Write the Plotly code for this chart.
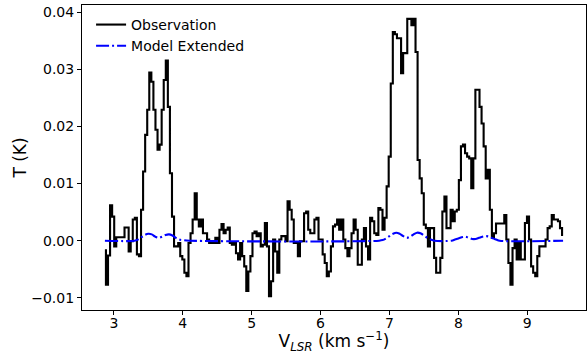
import numpy as np
import plotly.graph_objects as go

# Velocity channel grid (km/s)
v_start, v_end = 2.87, 9.52

# Observed brightness temperature per channel (K)
obs_T = [
    -0.0017, -0.0077, -0.0026, 0.0062, 0.0042, -0.0010, 0.0006, 0.0006, 0.0006, 0.0006,
    0.0023, 0.0023, -0.0019, -0.0001, 0.0037, 0.0040, -0.0024, -0.0027, 0.0054, 0.0121,
    0.0185, 0.0229, 0.0294, 0.0278, 0.0229, 0.0194, 0.0159, 0.0168, 0.0229, 0.0281,
    0.0315,
    0.0234, 0.0118, 0.0042, -0.0010, -0.0010, -0.0004, -0.0027, -0.0033, -0.0056, -0.0062,
    -0.0004, 0.0013, 0.0037, 0.0083, 0.0037, 0.0025, 0.0037, 0.0013, 0.0013, 0.0002,
    -0.0004, -0.0004, -0.0004, 0.0005, -0.0004, 0.0019, 0.0029, 0.0013, 0.0019, 0.0023,
    -0.0004, -0.0007, -0.0004,
    -0.0022, -0.0033, -0.0004, -0.0027, -0.0045, -0.0088,
    -0.0054, -0.0027, 0.0013, 0.0016, 0.0008, 0.0013, -0.0010, -0.0007, 0.0031, -0.0010,
    -0.0097, -0.0071, 0.0002, -0.0019, -0.0056, 0.0002, 0.0008, 0.0008, -0.0001, 0.0069,
    0.0054, 0.0037, -0.0004, -0.0004, -0.0027, -0.0001, -0.0001, 0.0048, 0.0051, 0.0019,
    0.0013, 0.0013, 0.0037, 0.0040, 0.0002, 0.0002, -0.0024, -0.0039, -0.0062, -0.0054,
    -0.0010, 0.0025, 0.0028, 0.0037, 0.0019, 0.0037, 0.0002, -0.0013, -0.0027, -0.0013,
    0.0013, 0.0037, 0.0019, -0.0042, -0.0042, 0.0002, 0.0022, -0.0010, -0.0033, 0.0040,
    0.0034, 0.0013, 0.0010, 0.0057, 0.0054, 0.0019, 0.0040, 0.0095, 0.0147, 0.0275,
    0.0365, 0.0361, 0.0354, 0.0354, 0.0293, 0.0328, 0.0328, 0.0388, 0.0388, 0.0377,
    0.0388, 0.0330,
    0.0141, 0.0109, 0.0083, 0.0028, 0.0022, -0.0010, 0.0022, 0.0022, -0.0030, -0.0056,
    -0.0056, -0.0030, 0.0051, 0.0077, 0.0022, 0.0022, 0.0054, 0.0034, 0.0051, 0.0054,
    0.0106, 0.0165, 0.0168, 0.0153, 0.0147, 0.0144, 0.0092, 0.0144, 0.0264, 0.0264,
    0.0234, 0.0205, 0.0165, 0.0109, 0.0124, 0.0054, 0.0005, 0.0013, 0.0030, 0.0030,
    0.0030, 0.0030, 0.0045, 0.0002, -0.0039, -0.0077, -0.0013, 0.0002, -0.0033, -0.0004,
    -0.0033, -0.0033, 0.0031, 0.0042, 0.0002, -0.0045, -0.0056, -0.0062, -0.0027, -0.0010,
    -0.0010, -0.0010, 0.0002, 0.0022, 0.0025, 0.0045, 0.0037, 0.0037, 0.0034, 0.0022,
    0.0010,
]
obs_v = np.linspace(v_start, v_end, len(obs_T))

# Extended-source model spectrum
model_v = [2.87, 3.30, 3.35, 3.40, 3.45, 3.50, 3.55, 3.60, 3.65, 3.70, 3.75, 3.80,
           3.85, 3.90, 3.95, 4.00, 4.10, 6.85, 6.90, 6.95, 7.00, 7.05, 7.10, 7.15,
           7.20, 7.25, 7.30, 7.35, 7.40, 7.45, 7.50, 7.55, 7.60, 7.65, 7.90, 7.95,
           8.00, 8.05, 8.10, 8.15, 8.20, 8.25, 8.30, 8.35, 8.40, 8.45, 8.50, 8.55,
           8.60, 9.52]
model_T = [0.0, 0.0, 0.0002, 0.0006, 0.0010, 0.0012, 0.0011, 0.0007, 0.0005, 0.0007,
           0.0010, 0.0011, 0.0009, 0.0005, 0.0002, 0.0001, 0.0, 0.0, 0.0001, 0.0004,
           0.0008, 0.0012, 0.0014, 0.0012, 0.0008, 0.0005, 0.0007, 0.0011, 0.0014,
           0.0013, 0.0009, 0.0005, 0.0002, 0.0, 0.0, 0.0002, 0.0004, 0.0006, 0.0007,
           0.0005, 0.0003, 0.0003, 0.0005, 0.0007, 0.0008, 0.0007, 0.0004, 0.0002,
           0.0, 0.0]

x_ticks = [3, 4, 5, 6, 7, 8, 9]
y_ticks = [-0.01, 0.0, 0.01, 0.02, 0.03, 0.04]
y_tick_text = ["\u22120.01", "0.00", "0.01", "0.02", "0.03", "0.04"]

font = dict(family="DejaVu Sans", size=14, color="black")

fig = go.Figure()
fig.add_trace(go.Scatter(
    x=obs_v, y=obs_T, mode="lines", name="Observation",
    line=dict(color="black", width=2.1, shape="hvh"),
))
fig.add_trace(go.Scatter(
    x=model_v, y=model_T, mode="lines", name="Model Extended",
    line=dict(color="blue", width=2.1, dash="13px,3px,2px,3px", shape="spline"),
))
# empty trace that carries the tick-mark-only x axis
fig.add_trace(go.Scatter(x=[], y=[], xaxis="x2", showlegend=False, hoverinfo="skip"))

# 5% padding around the data, as in a default autoscaled plot
xr = v_end - v_start
x_range = [v_start - 0.05 * xr, v_end + 0.05 * xr]
ymin, ymax = min(obs_T), max(obs_T)
yr = ymax - ymin

fig.update_layout(
    width=587, height=354,
    margin=dict(l=82, r=1, t=5, b=44),
    paper_bgcolor="white", plot_bgcolor="white",
    font=font,
    showlegend=True,
    legend=dict(x=0.018, y=0.987, xanchor="left", yanchor="top",
                bgcolor="rgba(0,0,0,0)", borderwidth=0,
                font=dict(family="DejaVu Sans", size=14, color="black"),
                tracegroupgap=0),
    # labels sit on the main axis; the outside tick marks come from this overlay
    xaxis2=dict(overlaying="x", side="bottom", range=x_range, tickvals=x_ticks,
                ticks="outside", ticklen=4, tickwidth=1.1, tickcolor="black",
                showticklabels=False, showline=False, showgrid=False, zeroline=False),
)
fig.update_layout(xaxis=dict(
    range=x_range,
    tickvals=x_ticks, ticks="outside", ticklen=0, tickwidth=0, tickcolor="black",
    showline=True, mirror=True, linecolor="black", linewidth=1.1,
    showgrid=False, zeroline=False,
    title=dict(text="V<sub><i>LSR</i></sub> (km s<sup>\u22121</sup>)", standoff=7),
    tickfont=font,
))
fig.update_yaxes(
    range=[ymin - 0.05 * yr, ymax + 0.05 * yr],
    tickvals=y_ticks, ticktext=y_tick_text,
    ticks="outside", ticklen=4, tickwidth=1.1, tickcolor="black",
    showline=True, mirror=True, linecolor="black", linewidth=1.1,
    showgrid=False, zeroline=False,
    title=dict(text="T (K)", standoff=0),
    tickfont=font,
)

fig.write_html("out.html")
